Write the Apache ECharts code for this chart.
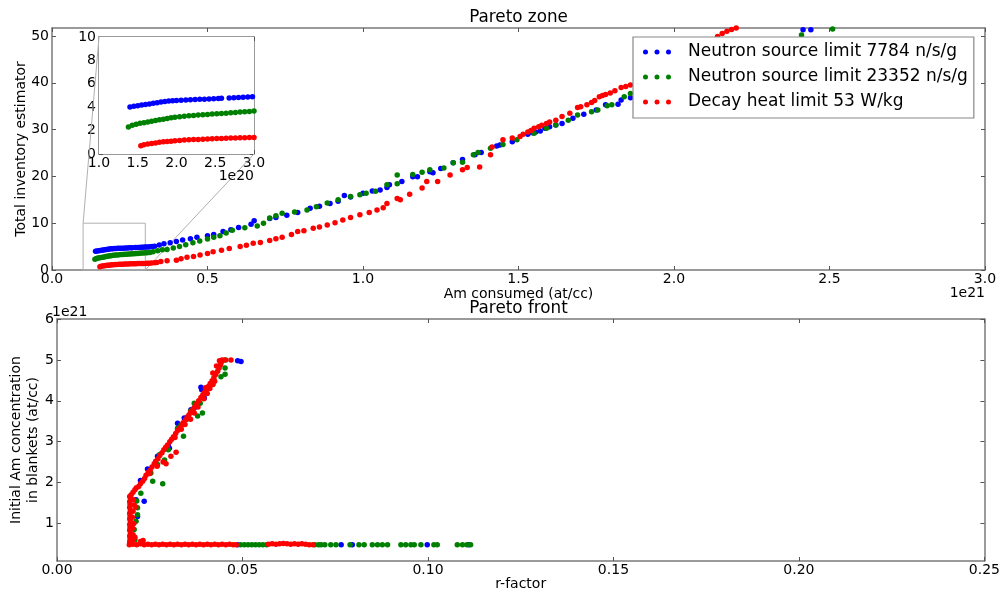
<!DOCTYPE html>
<html><head><meta charset="utf-8">
<script src="https://cdn.jsdelivr.net/npm/echarts@6/dist/echarts.min.js"></script>
<style>html,body{margin:0;padding:0;background:#fff}#c{width:1003px;height:595px}</style>
</head><body><div id="c"></div>
<script>
// ---------- DATA ----------
const seriesNames = ['Neutron source limit 7784 n/s/g', 'Neutron source limit 23352 n/s/g', 'Decay heat limit 53 W/kg'];
const seriesColors = ['#0000ff', '#008000', '#ff0000'];

// Pareto zone: x = Am consumed (1e21 at/cc), y = total inventory estimator
const zoneBlue = [
[0.140,4.02],[0.145,4.08],[0.150,4.13],[0.155,4.18],[0.160,4.23],[0.165,4.28],[0.170,4.33],[0.175,4.38],[0.180,4.44],[0.185,4.48],[0.190,4.52],[0.195,4.55],[0.200,4.58],[0.206,4.60],[0.212,4.62],[0.218,4.64],[0.224,4.66],[0.230,4.67],[0.236,4.69],[0.242,4.71],[0.248,4.73],[0.254,4.75],[0.258,4.76],[0.268,4.79],[0.274,4.81],[0.280,4.83],[0.286,4.85],[0.292,4.87],[0.298,4.89],[0.304,4.92],[0.310,4.94],[0.316,4.97],[0.322,5.00],[0.330,5.10],[0.345,5.35],[0.360,5.60],[0.380,5.80],[0.400,6.10],[0.420,6.40],[0.445,6.70],[0.466,7.00],[0.500,7.30],[0.520,7.60],[0.550,8.20],[0.575,8.60],[0.600,9.10],[0.640,9.80],[0.650,10.50],[0.700,11.00],[0.720,11.20],[0.755,11.70],[0.790,12.30],[0.830,13.20],[0.860,13.60],[0.894,14.20],[0.920,14.70],[0.940,15.90],[0.960,15.60],[1.000,16.40],[1.030,16.90],[1.055,17.10],[1.077,17.60],[1.085,18.20],[1.125,18.90],[1.160,19.90],[1.175,19.90],[1.215,21.00],[1.225,20.80],[1.250,21.70],[1.290,22.90],[1.320,23.60],[1.360,24.60],[1.380,25.10],[1.430,26.50],[1.440,26.70],[1.480,27.40],[1.530,29.00],[1.545,29.30],[1.555,29.50],[1.570,29.70],[1.585,30.30],[1.600,30.60],[1.620,31.00],[1.640,31.30],[1.675,32.40],[1.710,33.30],[1.750,34.20],[1.780,35.30],[1.820,35.40],[1.830,36.30],[1.860,36.80],[2.415,51.30],[2.440,51.30]
];
const zoneGreen = [
[0.138,2.30],[0.143,2.45],[0.148,2.55],[0.153,2.62],[0.158,2.68],[0.163,2.74],[0.168,2.80],[0.173,2.86],[0.178,2.92],[0.183,2.98],[0.188,3.04],[0.193,3.10],[0.198,3.15],[0.204,3.19],[0.210,3.23],[0.216,3.27],[0.222,3.30],[0.228,3.33],[0.234,3.36],[0.240,3.38],[0.246,3.41],[0.252,3.44],[0.258,3.47],[0.264,3.49],[0.270,3.52],[0.276,3.55],[0.282,3.58],[0.288,3.61],[0.294,3.64],[0.300,3.67],[0.306,3.70],[0.315,3.75],[0.325,3.90],[0.340,4.10],[0.355,4.30],[0.370,4.40],[0.390,4.70],[0.410,5.00],[0.430,5.40],[0.453,5.80],[0.475,6.20],[0.500,6.60],[0.520,7.00],[0.540,7.30],[0.560,7.90],[0.580,8.50],[0.620,9.00],[0.660,9.40],[0.680,10.00],[0.700,11.10],[0.720,11.60],[0.740,12.10],[0.780,12.40],[0.820,12.80],[0.850,13.50],[0.885,14.30],[0.920,15.00],[0.960,15.70],[0.990,16.10],[1.010,16.40],[1.040,16.80],[1.077,18.20],[1.110,18.40],[1.110,20.30],[1.160,20.40],[1.190,20.90],[1.215,21.40],[1.260,21.80],[1.290,22.90],[1.320,23.00],[1.355,24.60],[1.370,25.10],[1.410,26.00],[1.450,26.80],[1.495,27.80],[1.550,29.20],[1.590,30.30],[1.620,31.00],[1.660,32.00],[1.690,33.10],[1.735,33.80],[1.755,34.20],[1.785,35.10],[1.800,35.30],[1.840,37.00],[1.860,37.70],[2.410,50.20],[2.510,51.50]
];
const zoneRed = [
[0.154,0.70],[0.158,0.78],[0.163,0.85],[0.168,0.90],[0.173,0.95],[0.178,1.00],[0.183,1.04],[0.188,1.07],[0.193,1.10],[0.198,1.13],[0.204,1.16],[0.210,1.19],[0.216,1.21],[0.222,1.23],[0.228,1.25],[0.234,1.27],[0.240,1.29],[0.246,1.30],[0.252,1.32],[0.258,1.33],[0.264,1.35],[0.270,1.36],[0.276,1.37],[0.282,1.38],[0.288,1.39],[0.294,1.40],[0.300,1.41],[0.306,1.43],[0.312,1.45],[0.320,1.50],[0.330,1.55],[0.337,1.60],[0.350,1.80],[0.370,2.00],[0.400,2.10],[0.415,2.40],[0.434,2.70],[0.455,2.90],[0.476,3.20],[0.500,3.50],[0.518,3.90],[0.545,4.20],[0.570,4.60],[0.605,5.00],[0.625,5.30],[0.647,5.70],[0.670,5.90],[0.700,6.30],[0.720,6.70],[0.740,7.00],[0.770,7.60],[0.790,8.20],[0.810,8.40],[0.840,8.90],[0.860,9.20],[0.885,9.60],[0.910,10.10],[0.935,10.70],[0.960,11.20],[0.990,11.80],[1.020,12.30],[1.045,12.80],[1.065,13.30],[1.077,14.20],[1.110,15.30],[1.120,15.00],[1.150,16.20],[1.190,17.50],[1.205,18.90],[1.240,18.90],[1.280,20.30],[1.320,21.40],[1.335,21.90],[1.375,22.00],[1.410,24.60],[1.415,26.30],[1.450,27.80],[1.480,28.20],[1.505,28.50],[1.515,29.00],[1.530,29.50],[1.540,29.80],[1.550,30.30],[1.565,30.60],[1.575,30.90],[1.590,31.30],[1.600,31.60],[1.620,32.00],[1.640,32.80],[1.665,33.50],[1.690,34.70],[1.700,34.90],[1.720,35.30],[1.735,35.80],[1.745,36.20],[1.760,37.00],[1.770,37.30],[1.780,37.50],[1.795,37.80],[1.810,38.30],[1.830,39.00],[1.845,39.20],[1.860,39.50],[2.140,49.90],[2.155,50.50],[2.170,51.00],[2.185,51.40],[2.200,51.70]
];

// Pareto front: x = r-factor, y = initial Am concentration in blankets (1e21 at/cc)
const frontBlue = [
[0.0487,0.48],[0.0766,0.48],[0.0796,0.48],[0.0998,0.48],[0.1110,0.48],[0.0487,4.98],[0.0496,4.96],[0.0397,4.07],[0.0390,4.27],[0.0388,4.33],[0.0370,3.82],[0.0361,3.78],[0.0343,3.58],[0.0325,3.45],[0.0300,2.90],[0.0303,2.84],[0.0271,2.64],[0.0244,2.33],[0.0225,2.05],[0.0235,1.54],[0.0213,1.58],[0.0217,1.17]
];
const frontGreen = [
[0.0495,0.48],[0.0505,0.48],[0.0515,0.48],[0.0525,0.48],[0.0535,0.48],[0.0545,0.48],[0.0555,0.48],[0.0565,0.48],[0.0695,0.48],[0.0705,0.48],[0.0712,0.48],[0.0722,0.48],[0.0738,0.48],[0.0752,0.48],[0.0790,0.48],[0.0814,0.48],[0.0828,0.48],[0.0850,0.48],[0.0864,0.48],[0.0877,0.48],[0.0891,0.48],[0.0927,0.48],[0.0940,0.48],[0.0954,0.48],[0.0963,0.48],[0.0981,0.48],[0.1016,0.48],[0.1025,0.48],[0.1079,0.48],[0.1093,0.48],[0.1105,0.48],[0.1115,0.48],
[0.0210,0.60],[0.0208,0.85],[0.0213,1.05],[0.0217,1.21],[0.0217,1.38],[0.0215,1.55],[0.0226,1.74],[0.0258,2.03],[0.0285,1.97],[0.0253,2.23],[0.0271,2.44],[0.0290,2.55],[0.0276,2.68],[0.0300,2.80],[0.0341,3.13],[0.0325,3.33],[0.0334,3.41],[0.0350,3.55],[0.0379,3.63],[0.0360,3.75],[0.0392,3.70],[0.0370,3.94],[0.0386,3.94],[0.0400,4.20],[0.0420,4.40],[0.0442,4.59],[0.0453,4.65],[0.0453,4.80],[0.0455,5.00]
];
const frontRed = [
[0.0195,0.48],[0.0205,0.49],[0.0215,0.48],[0.0225,0.50],[0.0235,0.48],[0.0245,0.49],[0.0255,0.48],[0.0265,0.49],[0.0275,0.48],[0.0285,0.49],[0.0295,0.48],[0.0305,0.49],[0.0315,0.48],[0.0325,0.49],[0.0335,0.48],[0.0345,0.49],[0.0355,0.48],[0.0365,0.49],[0.0375,0.48],[0.0385,0.49],[0.0395,0.48],[0.0405,0.49],[0.0415,0.48],[0.0425,0.49],[0.0435,0.48],[0.0445,0.49],[0.0455,0.48],[0.0465,0.49],[0.0475,0.48],[0.0483,0.48],
[0.0570,0.49],[0.0580,0.50],[0.0590,0.49],[0.0600,0.50],[0.0610,0.51],[0.0620,0.50],[0.0630,0.49],[0.0640,0.50],[0.0650,0.49],[0.0660,0.50],[0.0670,0.49],[0.0680,0.48],[0.0690,0.48],
[0.0225,0.56],[0.0232,0.58],
[0.0196,0.55],[0.0197,0.62],[0.0196,0.69],[0.0198,0.76],[0.0196,0.83],[0.0197,0.90],[0.0196,0.97],[0.0198,1.04],[0.0196,1.11],[0.0197,1.18],[0.0196,1.25],[0.0198,1.32],[0.0196,1.39],[0.0197,1.46],[0.0196,1.53],[0.0198,1.60],[0.0196,1.66],[0.0203,0.58],[0.0205,0.72],[0.0204,0.88],[0.0207,1.00],[0.0203,1.15],[0.0205,1.30],[0.0208,1.45],[0.0206,1.58],[0.0210,0.66],[0.0212,1.40],
[0.0200,1.70],[0.0205,1.76],[0.0210,1.82],[0.0214,1.87],[0.0220,1.90],[0.0225,1.97],[0.0231,2.03],[0.0236,2.10],[0.0240,2.18],[0.0246,2.25],[0.0251,2.30],[0.0256,2.38],[0.0262,2.46],[0.0266,2.52],[0.0272,2.58],[0.0277,2.66],[0.0283,2.73],[0.0288,2.80],[0.0293,2.86],[0.0298,2.92],[0.0304,3.00],[0.0309,3.06],[0.0314,3.12],[0.0320,3.20],[0.0325,3.27],[0.0330,3.33],[0.0336,3.40],[0.0340,3.46],[0.0346,3.53],[0.0351,3.60],[0.0356,3.66],[0.0361,3.73],[0.0367,3.80],[0.0372,3.86],[0.0377,3.93],[0.0382,4.00],[0.0388,4.08],[0.0393,4.14],[0.0398,4.21],[0.0403,4.28],[0.0408,4.35],[0.0413,4.42],[0.0418,4.49],[0.0423,4.56],[0.0428,4.64],[0.0433,4.72],[0.0437,4.80],[0.0441,4.88],[0.0443,4.95],[0.0445,5.00],[0.0452,5.00],[0.0469,5.00],
[0.0250,2.22],[0.0270,2.40],[0.0286,2.50],[0.0294,2.46],[0.0307,2.64],[0.0321,2.74],[0.0318,3.10],[0.0335,3.30],[0.0345,3.42],[0.0360,3.55],[0.0370,3.70],[0.0380,3.85],[0.0396,4.05],[0.0405,4.18],[0.0400,4.32],[0.0412,4.30],[0.0420,4.40],[0.0425,4.48],[0.0420,4.68],[0.0430,4.85],[0.0438,4.98]
];

// Tick values and labels
const zoneXTicks = [0, 0.5, 1.0, 1.5, 2.0, 2.5, 3.0];
const zoneYTicks = [0, 10, 20, 30, 40, 50];
const insetXTicks = [0.10, 0.15, 0.20, 0.25, 0.30];
const insetYTicks = [0, 2, 4, 6, 8, 10];
const frontXTicks = [0, 0.05, 0.10, 0.15, 0.20, 0.25];
const frontYTicks = [1, 2, 3, 4, 5, 6];

// ---------- CHART ----------
const FONT = 'DejaVu Sans';
const SPINE = '#7a7a7a';
const chart = echarts.init(document.getElementById('c'), null, {renderer: 'canvas'});

function xAx(grid, min, max, ticks, fmt, pos, name, nameGap) {
  return {
    type: 'value', gridIndex: grid, min: min, max: max, position: pos,
    axisLine: {show: true, onZero: false, lineStyle: {color: SPINE, width: 1.5}},
    axisTick: {show: true, inside: true, length: 4, customValues: ticks, lineStyle: {color: '#555'}},
    axisLabel: {show: pos === 'bottom', customValues: ticks, formatter: fmt, margin: 2,
      color: '#000', fontFamily: FONT, fontSize: 14},
    splitLine: {show: false},
    name: name || '', nameLocation: 'middle', nameGap: nameGap || 0, nameMoveOverlap: false,
    nameTextStyle: {color: '#000', fontFamily: FONT, fontSize: 14}
  };
}
function yAx(grid, min, max, ticks, fmt, pos, name, nameGap) {
  return {
    type: 'value', gridIndex: grid, min: min, max: max, position: pos,
    axisLine: {show: true, onZero: false, lineStyle: {color: SPINE, width: 1.5}},
    axisTick: {show: true, inside: true, length: 4, customValues: ticks, lineStyle: {color: '#555'}},
    axisLabel: {show: pos === 'left', customValues: ticks, formatter: fmt, margin: 3,
      color: '#000', fontFamily: FONT, fontSize: 14},
    splitLine: {show: false},
    name: name || '', nameLocation: 'middle', nameGap: nameGap || 0, nameRotate: 90, nameMoveOverlap: false,
    nameTextStyle: {color: '#000', fontFamily: FONT, fontSize: 14, lineHeight: 17}
  };
}

const f1 = v => v.toFixed(1);
const f10 = v => (v * 10).toFixed(1);
const f2 = v => v.toFixed(2);
const f0 = v => String(Math.round(v));

const dotsIcon = 'path://M0,2.5a2.5,2.5 0 1,0 5,0a2.5,2.5 0 1,0 -5,0Z M11.5,2.5a2.5,2.5 0 1,0 5,0a2.5,2.5 0 1,0 -5,0Z M23,2.5a2.5,2.5 0 1,0 5,0a2.5,2.5 0 1,0 -5,0Z';

function sc(name, color, data, xi, yi, z) {
  return {type: 'scatter', name: name, data: data, xAxisIndex: xi, yAxisIndex: yi,
    symbol: 'circle', symbolSize: 5.5, itemStyle: {color: color, opacity: 1},
    silent: true, animation: false, z: z, clip: true};
}

const zoneData = [zoneBlue, zoneGreen, zoneRed];
const frontData = [frontBlue, frontGreen, frontRed];
const series = [];
for (let i = 0; i < 3; i++) series.push(sc(seriesNames[i], seriesColors[i], zoneData[i], 0, 0, 2));
for (let i = 0; i < 3; i++) series.push(sc(seriesNames[i], seriesColors[i], zoneData[i], 1, 1, 3));
for (let i = 0; i < 3; i++) series.push(sc(seriesNames[i], seriesColors[i], frontData[i], 2, 2, 2));

const option = {
  animation: false,
  backgroundColor: '#fff',
  grid: [
    {left: 52, right: 18, top: 28, height: 242},
    {left: 99, width: 155, top: 37, height: 117, show: true, backgroundColor: '#fff', borderWidth: 0, z: 1},
    {left: 52, right: 18, top: 319, height: 242}
  ],
  xAxis: [
    xAx(0, 0, 3.0, zoneXTicks, f1, 'bottom', 'Am consumed (at/cc)', 17),
    xAx(1, 0.1, 0.3, insetXTicks, f10, 'bottom'),
    xAx(2, 0, 0.25, frontXTicks, f2, 'bottom', 'r-factor', 16),
    xAx(0, 0, 3.0, zoneXTicks, f1, 'top'),
    xAx(1, 0.1, 0.3, insetXTicks, f10, 'top'),
    xAx(2, 0, 0.25, frontXTicks, f2, 'top')
  ],
  yAxis: [
    yAx(0, 0, 51.7, zoneYTicks, f0, 'left', 'Total inventory estimator', 22),
    yAx(1, 0, 10, insetYTicks, f0, 'left'),
    yAx(2, 0.08, 6, frontYTicks, f0, 'left', 'Initial Am concentration\nin blankets (at/cc)', 15),
    yAx(0, 0, 51.7, zoneYTicks, f0, 'right'),
    yAx(1, 0, 10, insetYTicks, f0, 'right'),
    yAx(2, 0.08, 6, frontYTicks, f0, 'right')
  ],
  legend: {
    orient: 'vertical', left: 633, top: 37,
    data: seriesNames.map((n, i) => ({name: n, icon: dotsIcon, itemStyle: {color: seriesColors[i]}})),
    itemWidth: 28, itemHeight: 5, itemGap: 5,
    padding: [5, 6, 6, 10],
    backgroundColor: '#fff', borderColor: '#888', borderWidth: 1.2, borderRadius: 0,
    textStyle: {fontFamily: FONT, fontSize: 17, color: '#000', lineHeight: 20, padding: [0, 0, 0, 12]},
    selectedMode: false, z: 20
  },
  series: series,
  graphic: [
    {type: 'text', x: 518.5, y: 18, z: 30, style: {text: 'Pareto zone', fill: '#000', font: '16.8px "DejaVu Sans"', align: 'center', verticalAlign: 'middle'}},
    {type: 'text', x: 518.5, y: 309, z: 30, style: {text: 'Pareto front', fill: '#000', font: '16.8px "DejaVu Sans"', align: 'center', verticalAlign: 'middle'}},
    {type: 'text', x: 985, y: 293, z: 30, style: {text: '1e21', fill: '#000', font: '14px "DejaVu Sans"', align: 'right', verticalAlign: 'middle'}},
    {type: 'text', x: 254, y: 176, z: 30, style: {text: '1e20', fill: '#000', font: '14px "DejaVu Sans"', align: 'right', verticalAlign: 'middle'}},
    {type: 'text', x: 52, y: 312, z: 30, style: {text: '1e21', fill: '#000', font: '14px "DejaVu Sans"', align: 'left', verticalAlign: 'middle'}}
  ]
};
chart.setOption(option);

// Inset marker rectangle and connectors, computed from the axes
const r1 = chart.convertToPixel({seriesIndex: 0}, [insetXTicks[0], insetYTicks[insetYTicks.length - 1]]);
const r2 = chart.convertToPixel({seriesIndex: 0}, [insetXTicks[insetXTicks.length - 1], insetYTicks[0]]);
const i1 = chart.convertToPixel({seriesIndex: 3}, [insetXTicks[0], insetYTicks[insetYTicks.length - 1]]);
const i2 = chart.convertToPixel({seriesIndex: 3}, [insetXTicks[insetXTicks.length - 1], insetYTicks[0]]);
const g = option.graphic.slice();
g.push({type: 'rect', z: 1, shape: {x: r1[0], y: r1[1], width: r2[0] - r1[0], height: r2[1] - r1[1]}, style: {fill: 'none', stroke: '#b0b0b0', lineWidth: 1}});
g.push({type: 'line', z: 1, shape: {x1: r1[0], y1: r1[1], x2: i1[0], y2: i1[1]}, style: {stroke: '#b0b0b0', lineWidth: 1}});
g.push({type: 'line', z: 1, shape: {x1: r2[0], y1: r2[1], x2: i2[0], y2: i2[1]}, style: {stroke: '#b0b0b0', lineWidth: 1}});
chart.setOption({graphic: g});
</script>
</body></html>
